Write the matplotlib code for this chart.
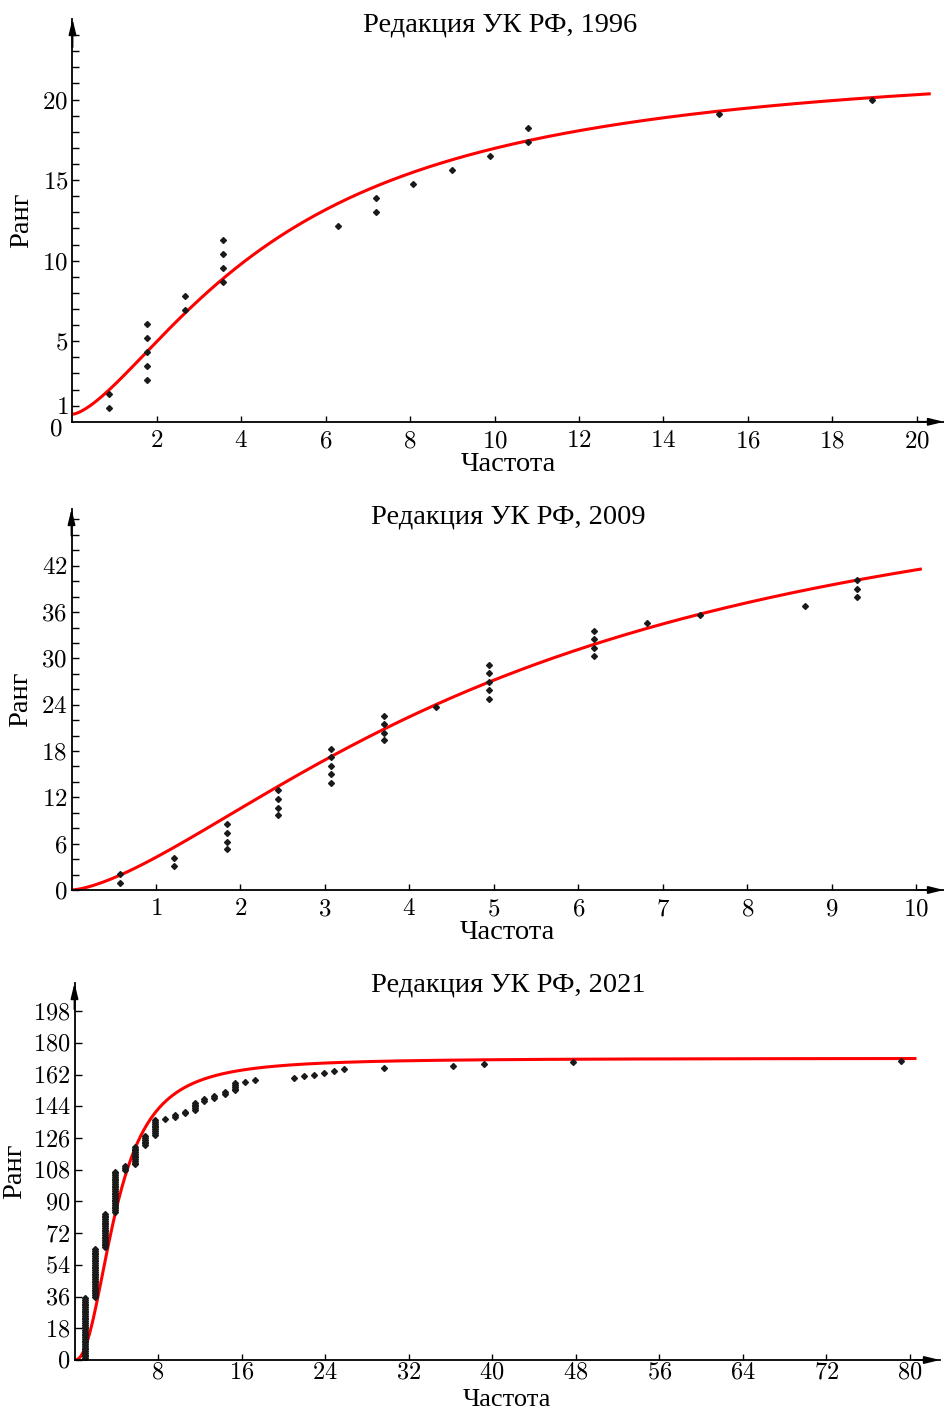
import numpy as np
import matplotlib
matplotlib.use("Agg")
import matplotlib.pyplot as plt
from matplotlib.ticker import FixedLocator

plt.rcParams['font.family'] = ['Liberation Serif', 'DejaVu Serif']
plt.rcParams['mathtext.fontset'] = 'cm'

# --- data: 1996 ---
p1_freq = [0.86, 0.86, 1.77, 1.77, 1.77, 1.77, 1.77, 2.67, 2.67, 3.57, 3.57, 3.57, 3.57,
           6.29, 7.18, 7.18, 8.07, 8.99, 9.89, 10.79, 10.79, 15.32, 18.94]
p1_rank = [0.87, 1.74, 2.61, 3.48, 4.35, 5.22, 6.09, 6.96, 7.83, 8.70, 9.57, 10.43,
           11.30, 12.17, 13.04, 13.91, 14.78, 15.65, 16.52, 17.39, 18.26, 19.13, 20.0]
p1_fit = dict(a=22.3, k=4.98, n=1.5, c=0.47)

# --- data: 2009 ---
p2_freq = [0.58, 0.58, 1.21, 1.21, 1.84, 1.84, 1.84, 1.84, 2.45, 2.45, 2.45, 2.45,
           3.07, 3.07, 3.07, 3.07, 3.07, 3.70, 3.70, 3.70, 3.70, 4.31,
           4.94, 4.94, 4.94, 4.94, 4.94, 6.19, 6.19, 6.19, 6.19, 6.81, 7.44, 8.68,
           9.30, 9.30, 9.30]
p2_rank = [0.95, 2.03, 3.07, 4.1, 5.27, 6.26, 7.42, 8.5, 9.67, 10.66, 11.75, 12.95,
           13.9, 15.06, 16.1, 17.27, 18.26, 19.4, 20.4, 21.5, 22.6, 23.7,
           24.8, 25.9, 27.0, 28.1, 29.2, 30.3, 31.3, 32.5, 33.5, 34.6, 35.6, 36.8,
           37.9, 39.0, 40.1]
p2_fit = dict(a=58.2, k=5.46, n=1.5, c=0.0)

# --- data: 2021 (words per frequency, ranks run 1..170 in order) ---
p3_freq = [1.0, 2.0, 2.95, 3.9, 4.85, 5.8, 6.75, 7.7, 8.7, 9.6, 10.55, 11.5, 12.45,
           13.4, 14.4, 15.35, 16.3, 17.25, 21.0, 22.0, 22.95, 23.9, 24.85, 25.85,
           29.6, 36.3, 39.2, 47.7, 79.2]
p3_count = [35, 28, 20, 24, 3, 11, 6, 9, 1, 2, 2, 5, 2, 2, 2, 5,
            1, 1, 1, 1, 1, 1, 1, 1, 1, 1, 1, 1, 1]
p3_fit = dict(a=171.3, k=4.0, n=2.3, c=0.0)

titles = ['Редакция УК РФ, 1996', 'Редакция УК РФ, 2009', 'Редакция УК РФ, 2021']


def hill(x, a, k, n, c):
    return c + a * x**n / (k**n + x**n)


W, H = 945, 1412
fig = plt.figure(figsize=(W / 100, H / 100), dpi=100)


def make_axes(l, r, b, t):
    # pixel box -> figure fraction
    return fig.add_axes([l / W, (H - b) / H, (r - l) / W, (b - t) / H])


def style(ax, xpad=6, size=18):
    for s in ['top', 'right']:
        ax.spines[s].set_visible(False)
    for s in ['left', 'bottom']:
        ax.spines[s].set_linewidth(1.3)
    arr = dict(arrowstyle='-|>,head_length=0.9,head_width=0.22', color='k',
               lw=1.3, shrinkA=0, shrinkB=0)
    ax.annotate('', xy=(1, 0), xytext=(0.97, 0), xycoords='axes fraction',
                arrowprops=arr, annotation_clip=False)
    ax.annotate('', xy=(0, 1), xytext=(0, 0.93), xycoords='axes fraction',
                arrowprops=arr, annotation_clip=False)
    ax.tick_params(which='both', direction='in', labelsize=size, width=1)
    ax.tick_params(axis='x', which='major', length=4, pad=xpad)
    ax.tick_params(axis='y', which='major', length=5, pad=3)
    ax.tick_params(axis='y', which='minor', length=5)


def set_ticks(ax, xt, yt, ymin=None):
    ax.xaxis.set_major_locator(FixedLocator(xt))
    ax.set_xticklabels([f'${v}$' for v in xt])
    ax.yaxis.set_major_locator(FixedLocator(yt))
    ax.set_yticklabels([f'${v}$' for v in yt])
    if ymin is not None:
        ax.yaxis.set_minor_locator(FixedLocator(ymin))


lbl = dict(fontsize=20.5)
mk = dict(marker='D', ms=3.0, color='#1a1a1a', ls='none')
red = dict(color='#ff0000', lw=2.2)

# panel 1
ax1 = make_axes(72.5, 944, 421.8, 19)
style(ax1)
ax1.set_xlim(0, 20.65)
ax1.set_ylim(0, 25.0)
x = np.linspace(0, 20.3, 400)
ax1.plot(x, hill(x, **p1_fit), **red)
ax1.plot(p1_freq, p1_rank, **mk)
set_ticks(ax1, list(range(2, 21, 2)), [1, 5, 10, 15, 20], list(range(1, 25)))
ax1.text(-0.012, -0.45, '$0$', transform=ax1.get_yaxis_transform(),
         ha='right', va='center', fontsize=18)
ax1.set_xlabel('Частота', labelpad=0, **lbl)
ax1.set_ylabel('Ранг', labelpad=6, **lbl)
fig.text(500 / W, 1 - 25 / H, titles[0], ha='center', va='center', **lbl)

# panel 2
ax2 = make_axes(71.5, 944, 890, 509)
style(ax2)
ax2.set_xlim(0, 10.33)
ax2.set_ylim(0, 49.35)
x = np.linspace(0, 10.05, 400)
ax2.plot(x, hill(x, **p2_fit), **red)
ax2.plot(p2_freq, p2_rank, **mk)
set_ticks(ax2, list(range(1, 11)), list(range(0, 43, 6)), list(range(0, 49, 2)))
ax2.set_xlabel('Частота', labelpad=0, **lbl)
ax2.set_ylabel('Ранг', labelpad=6, **lbl)
fig.text(508 / W, 1 - 517 / H, titles[1], ha='center', va='center', **lbl)

# panel 3
ax3 = make_axes(74.5, 940, 1360, 983)
style(ax3, xpad=2, size=17.5)
ax3.set_xlim(0, 82.9)
ax3.set_ylim(0, 214)
x = np.linspace(0, 80.5, 800)
ax3.plot(x, hill(x, **p3_fit), **red)
p3_x = np.repeat(p3_freq, p3_count)
p3_rank = np.arange(1, len(p3_x) + 1)
ax3.plot(p3_x, p3_rank, **mk)
set_ticks(ax3, list(range(8, 81, 8)), list(range(0, 199, 18)))
ax3.set_ylabel('Ранг', labelpad=4, **lbl)
fig.text(507 / W, 1 - 1411 / H, 'Частота', ha='center', va='bottom', fontsize=19)
fig.text(508 / W, 1 - 985 / H, titles[2], ha='center', va='center', **lbl)

fig.savefig('out.png', dpi=100)
